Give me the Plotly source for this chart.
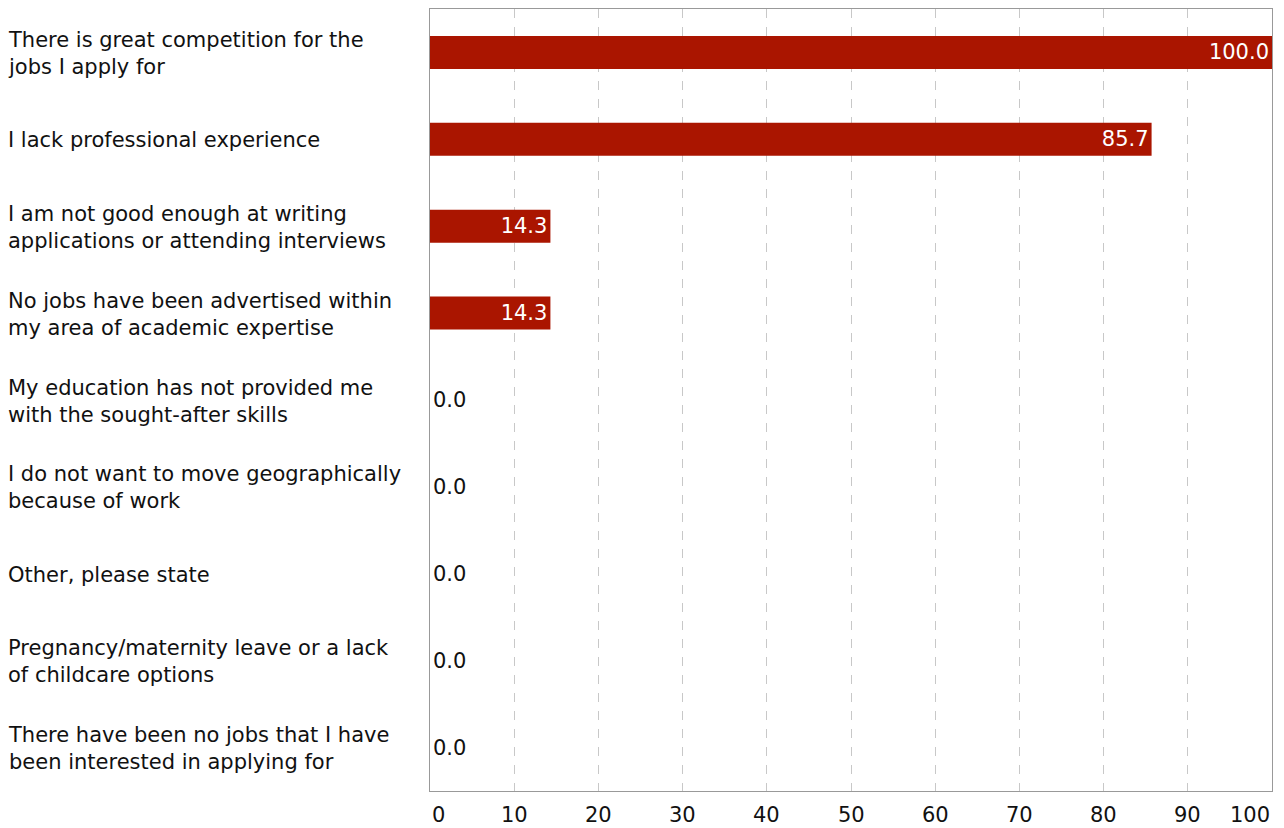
import plotly.graph_objects as go

categories = [
    "There is great competition for the<br>jobs I apply for",
    "I lack professional experience",
    "I am not good enough at writing<br>applications or attending interviews",
    "No jobs have been advertised within<br>my area of academic expertise",
    "My education has not provided me<br>with the sought-after skills",
    "I do not want to move geographically<br>because of work",
    "Other, please state",
    "Pregnancy/maternity leave or a lack<br>of childcare options",
    "There have been no jobs that I have<br>been interested in applying for",
]
values = [100.0, 85.7, 14.3, 14.3, 0.0, 0.0, 0.0, 0.0, 0.0]
x_ticks = [0, 10, 20, 30, 40, 50, 60, 70, 80, 90, 100]

FONT = "DejaVu Sans, Verdana, sans-serif"
FS = 21
BAR = "#AA1500"

ypos = list(range(len(categories)))
textpos = ["inside" if v > 0 else "outside" for v in values]
textcol = ["white" if v > 0 else "#111" for v in values]

fig = go.Figure()
fig.add_trace(go.Bar(
    x=values, y=ypos, orientation="h",
    marker=dict(color=BAR, line=dict(width=0)),
    text=[f"{v:.1f}" for v in values],
    textposition=textpos,
    insidetextanchor="end",
    textfont=dict(family=FONT, size=FS, color=textcol),
    cliponaxis=False,
    constraintext="none",
    hoverinfo="skip",
))

annotations = []
for i, c in enumerate(categories):
    annotations.append(dict(
        x=-0.5036, xref="paper", y=i, yref="y", yshift=-1,
        text=c, showarrow=False, xanchor="left", yanchor="middle", align="left",
        font=dict(family=FONT, size=FS, color="#111"),
    ))
for j, t in enumerate(x_ticks):
    anchor = "left" if j == 0 else ("right" if j == len(x_ticks) - 1 else "center")
    annotations.append(dict(
        x=t, xref="x", y=0, yref="paper", yshift=-24,
        text=str(t), showarrow=False, xanchor=anchor, yanchor="middle",
        font=dict(family=FONT, size=FS, color="#111"),
    ))

fig.update_layout(
    width=1284, height=828,
    margin=dict(l=430, r=12, t=9, b=37),
    paper_bgcolor="white", plot_bgcolor="white",
    bargap=0.62,
    showlegend=False,
    annotations=annotations,
    xaxis=dict(
        range=[0, 100], tickvals=x_ticks, showticklabels=False,
        showgrid=True, gridcolor="#c8c8c8", griddash="dash", gridwidth=1,
        showline=True, linecolor="#999999", linewidth=1, mirror=True,
        zeroline=False, ticks="",
    ),
    yaxis=dict(
        range=[len(categories) - 0.5, -0.5], showticklabels=False,
        showgrid=False, showline=True, linecolor="#999999", linewidth=1, mirror=True,
        zeroline=False, ticks="",
    ),
)

fig.write_html(
    "out.html",
    config={"displayModeBar": False},
    post_script="document.body.style.margin='0';document.body.style.overflow='hidden';",
)
